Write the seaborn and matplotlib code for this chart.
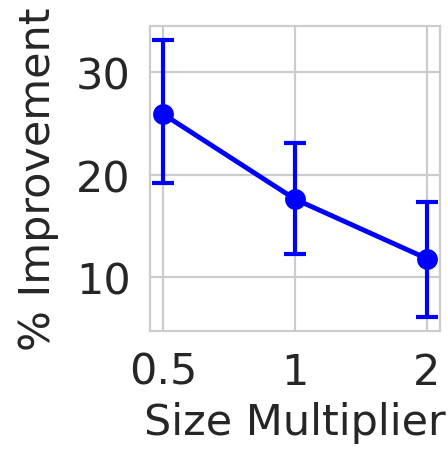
import numpy as np
import pandas as pd
import matplotlib
matplotlib.use("Agg")
import matplotlib.pyplot as plt
import seaborn as sns

multipliers = ["0.5", "1", "2"]
improvement = [25.9, 17.6, 11.8]
err_low = [19.2, 12.2, 6.1]
err_high = [33.1, 23.1, 17.3]

sns.set_theme(style="whitegrid")
plt.rcParams['font.family'] = ['DejaVu Sans']
plt.rcParams['axes.edgecolor'] = '#cccccc'
plt.rcParams['grid.color'] = '#cccccc'

fig = plt.figure(figsize=(4.48, 4.52), dpi=100)
ax = fig.add_axes([0.335, 0.265, 0.647, 0.675])

df = pd.DataFrame({"Size Multiplier": multipliers, "% Improvement": improvement})
pos = np.arange(len(multipliers))
sns.lineplot(x=pos, y=df["% Improvement"], ax=ax, color="blue", lw=3.5,
             marker="o", markersize=15, markeredgewidth=0)
imp = np.array(improvement)
ax.errorbar(pos, imp, yerr=[imp - np.array(err_low), np.array(err_high) - imp],
            fmt="none", ecolor="blue", elinewidth=3, capsize=8, capthick=3)

ax.set_xticks(pos)
ax.set_xticklabels(multipliers)
ax.set_xlim(-0.1, 2.1)
ax.set_ylim(4.7, 34.5)
ax.set_yticks([10, 20, 30])
ax.tick_params(labelsize=31, colors='#262626', pad=8)
ax.set_xlabel("Size Multiplier", fontsize=31, color='#262626', labelpad=6)
ax.set_ylabel("% Improvement", fontsize=31, color='#262626', labelpad=12)
for s in ax.spines.values():
    s.set_linewidth(1.6)
ax.grid(True, linewidth=1.6)

fig.savefig("out.png", dpi=100)
